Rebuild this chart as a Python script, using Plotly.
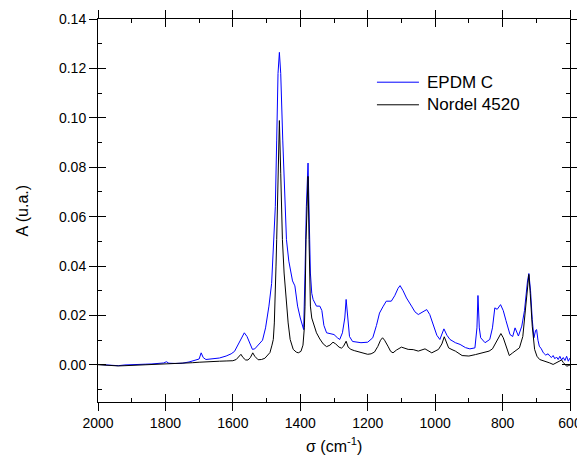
import plotly.graph_objects as go

# ---------------- data ----------------
epdm_x = [2000, 1980, 1960, 1940, 1920, 1900, 1880, 1860, 1840, 1820, 1805, 1797, 1790, 1770, 1750,
          1730, 1710, 1700, 1694, 1688, 1680, 1660, 1640, 1620, 1605, 1595, 1585, 1575, 1566, 1558,
          1550, 1542, 1535, 1525, 1512, 1503, 1493, 1485, 1478, 1474, 1470, 1466, 1462, 1458, 1452,
          1446, 1441, 1434, 1428, 1423, 1416, 1408, 1400, 1396, 1390, 1386, 1382, 1377, 1374, 1370,
          1366, 1362, 1352, 1342, 1336, 1330, 1322, 1300, 1290, 1283, 1275, 1268, 1264, 1259, 1254,
          1245, 1220, 1200, 1185, 1174, 1165, 1155, 1145, 1130, 1120, 1110, 1104, 1095, 1085, 1070,
          1060, 1050, 1035, 1025, 1016, 1005, 995, 986, 974, 965, 956, 940, 926, 910, 897,
          882, 876, 873, 869, 865, 852, 838, 830, 823, 816, 806, 798, 790, 778, 770,
          763, 753, 743, 735, 731, 726, 722, 717, 712, 707, 702, 699, 695, 691, 685,
          679, 672, 665, 660, 655, 650, 645, 640, 635, 630, 625, 620, 615, 610, 605, 600]
epdm_y = [0.0002, 0.0000, -0.0004, -0.0003, 0.0000, 0.0002, 0.0001, 0.0003, 0.0004, 0.0005, 0.0008, 0.0013, 0.0007, 0.0006, 0.0007,
          0.0012, 0.0018, 0.0024, 0.0049, 0.0030, 0.0022, 0.0024, 0.0028, 0.0036, 0.0045, 0.0055, 0.0080, 0.0110, 0.0130, 0.0115,
          0.0085, 0.0063, 0.0065, 0.0080, 0.0100, 0.0150, 0.0238, 0.0330, 0.0507, 0.0642, 0.0910, 0.1180, 0.1265, 0.1180, 0.0910,
          0.0642, 0.0507, 0.0420, 0.0372, 0.0340, 0.0320, 0.0238, 0.0190, 0.0170, 0.0143, 0.0372, 0.0640, 0.0817, 0.0640, 0.0372,
          0.0290, 0.0265, 0.0238, 0.0238, 0.0220, 0.0160, 0.0130, 0.0123, 0.0110, 0.0103, 0.0130, 0.0190, 0.0265, 0.0180, 0.0115,
          0.0095, 0.0090, 0.0092, 0.0110, 0.0160, 0.0210, 0.0235, 0.0258, 0.0258, 0.0280, 0.0310, 0.0321, 0.0300, 0.0271, 0.0238,
          0.0215, 0.0204, 0.0215, 0.0224, 0.0204, 0.0160, 0.0120, 0.0103, 0.0146, 0.0120, 0.0103, 0.0090, 0.0083, 0.0070, 0.0065,
          0.0069, 0.0150, 0.0281, 0.0150, 0.0110, 0.0090, 0.0103, 0.0150, 0.0231, 0.0225, 0.0244, 0.0220, 0.0180, 0.0123, 0.0115,
          0.0150, 0.0117, 0.0157, 0.0220, 0.0278, 0.0340, 0.0370, 0.0300, 0.0184, 0.0110, 0.0140, 0.0143, 0.0100, 0.0076, 0.0065,
          0.0049, 0.0040, 0.0045, 0.0036, 0.0030, 0.0038, 0.0025, 0.0032, 0.0022, 0.0035, 0.0020, 0.0030, 0.0018, 0.0035, 0.0015, 0.0028]

nordel_x = [2000, 1980, 1960, 1940, 1920, 1900, 1880, 1860, 1840, 1820, 1800, 1780, 1760, 1740, 1720,
            1700, 1680, 1660, 1640, 1620, 1600, 1590, 1580, 1576, 1570, 1562, 1555, 1548, 1541, 1535,
            1525, 1515, 1505, 1495, 1490, 1484, 1480, 1477, 1475, 1472, 1470, 1466, 1462, 1458, 1453,
            1448, 1441, 1436, 1430, 1421, 1412, 1406, 1398, 1392, 1388, 1386, 1383, 1377, 1374, 1370,
            1366, 1362, 1352, 1342, 1332, 1322, 1312, 1303, 1295, 1285, 1278, 1272, 1264, 1258, 1250,
            1240, 1230, 1215, 1200, 1190, 1180, 1170, 1162, 1156, 1150, 1140, 1132, 1125, 1115, 1100,
            1080, 1065, 1050, 1030, 1010, 990, 980, 973, 965, 960, 950, 940, 920, 900, 880,
            860, 840, 830, 820, 812, 805, 798, 790, 780, 770, 760, 750, 740, 735, 730,
            726, 722, 718, 712, 705, 698, 690, 680, 670, 660, 650, 640, 630, 625, 620,
            615, 610, 605, 600]
nordel_y = [0.0001, -0.0001, -0.0004, -0.0004, -0.0003, -0.0002, -0.0001, 0.0000, 0.0001, 0.0001, 0.0002, 0.0003, 0.0004, 0.0007, 0.0009,
            0.0011, 0.0013, 0.0014, 0.0015, 0.0016, 0.0017, 0.0022, 0.0040, 0.0043, 0.0030, 0.0020, 0.0020, 0.0030, 0.0049, 0.0035,
            0.0021, 0.0022, 0.0027, 0.0040, 0.0050, 0.0080, 0.0103, 0.0170, 0.0238, 0.0400, 0.0507, 0.0776, 0.0989, 0.0776, 0.0507,
            0.0372, 0.0238, 0.0170, 0.0103, 0.0063, 0.0052, 0.0049, 0.0055, 0.0080, 0.0150, 0.0238, 0.0507, 0.0763, 0.0507, 0.0238,
            0.0190, 0.0170, 0.0130, 0.0105, 0.0085, 0.0074, 0.0080, 0.0092, 0.0085, 0.0072, 0.0068, 0.0075, 0.0096, 0.0072, 0.0063,
            0.0058, 0.0055, 0.0048, 0.0043, 0.0045, 0.0052, 0.0075, 0.0100, 0.0110, 0.0100, 0.0076, 0.0055, 0.0049, 0.0060, 0.0072,
            0.0063, 0.0062, 0.0056, 0.0065, 0.0049, 0.0063, 0.0085, 0.0114, 0.0085, 0.0069, 0.0062, 0.0056, 0.0038, 0.0036, 0.0042,
            0.0049, 0.0056, 0.0065, 0.0090, 0.0115, 0.0127, 0.0110, 0.0076, 0.0038, 0.0049, 0.0058, 0.0069, 0.0115, 0.0180, 0.0250,
            0.0320, 0.0366, 0.0290, 0.0157, 0.0063, 0.0035, 0.0022, 0.0018, 0.0015, 0.0008, 0.0002, 0.0008, 0.0015, 0.0020, 0.0010,
            0.0000, -0.0005, -0.0003, 0.0000]

series_names = ["EPDM C", "Nordel 4520"]
series_colors = ["#0000ff", "#000000"]
x_ticks = [2000, 1800, 1600, 1400, 1200, 1000, 800, 600]
y_ticks = [0.00, 0.02, 0.04, 0.06, 0.08, 0.10, 0.12, 0.14]
x_title = "σ (cm<sup>-1</sup>)"
y_title = "A (u.a.)"

FONT = "Liberation Sans, Arial, sans-serif"

fig = go.Figure()
fig.add_trace(go.Scatter(x=epdm_x, y=epdm_y, mode="lines", name=series_names[0],
                         line=dict(color=series_colors[0], width=1), showlegend=False))
fig.add_trace(go.Scatter(x=nordel_x, y=nordel_y, mode="lines", name=series_names[1],
                         line=dict(color=series_colors[1], width=1), showlegend=False))
# invisible trace to carry the secondary (inward tick) axes
fig.add_trace(go.Scatter(x=[x_ticks[0], x_ticks[-1]], y=[0, 0], xaxis="x2", yaxis="y2",
                         mode="markers", marker=dict(opacity=0), showlegend=False, hoverinfo="skip"))

xr = [2000, 600]
yr = [-0.015, 0.14]

# the page body has an 8px default margin, so the figure is sized to fit the window
fig.update_layout(
    width=577, height=451,
    margin=dict(l=90, r=15, t=11, b=57),
    paper_bgcolor="white", plot_bgcolor="white",
    font=dict(family=FONT, size=14, color="black"),
    xaxis=dict(range=xr, tickvals=x_ticks, ticktext=[str(v) for v in x_ticks],
               ticks="outside", ticklen=8, tickwidth=1, tickcolor="black",
               showline=True, linecolor="black", linewidth=1, mirror="allticks",
               showgrid=False, zeroline=False, automargin=False,
               tickfont=dict(size=14)),
    yaxis=dict(range=yr, tickvals=y_ticks, ticktext=["%.2f" % v for v in y_ticks],
               ticks="outside", ticklen=8, tickwidth=1, tickcolor="black",
               showline=True, linecolor="black", linewidth=1, mirror="allticks",
               showgrid=False, zeroline=False, automargin=False,
               tickfont=dict(size=14)),
    xaxis2=dict(range=xr, overlaying="x", tickvals=x_ticks, ticks="inside", ticklen=8,
                tickwidth=1, tickcolor="black", mirror="allticks", showticklabels=False,
                showgrid=False, zeroline=False, showline=False, automargin=False,
                minor=dict(dtick=100, tick0=600, ticks="inside", ticklen=4, tickcolor="black", tickwidth=1, showgrid=False)),
    yaxis2=dict(range=yr, overlaying="y", tickvals=y_ticks, ticks="inside", ticklen=8,
                tickwidth=1, tickcolor="black", mirror="allticks", showticklabels=False,
                showgrid=False, zeroline=False, showline=False, automargin=False,
                minor=dict(dtick=0.01, tick0=0, ticks="inside", ticklen=4, tickcolor="black", tickwidth=1, showgrid=False)),
    showlegend=False,
)

# axis titles
fig.add_annotation(xref="paper", yref="paper", x=0.5, y=-0.143, text=x_title, showarrow=False,
                   xanchor="center", yanchor="bottom", font=dict(size=16))
fig.add_annotation(xref="paper", yref="paper", x=-0.161, y=0.5, text=y_title, showarrow=False,
                   textangle=-90, xanchor="center", yanchor="middle", font=dict(size=16))

# manual legend (sample lines + labels)
legend_rows = [0.835, 0.776]
for name, color, yy in zip(series_names, series_colors, legend_rows):
    fig.add_shape(type="line", xref="paper", yref="paper", x0=0.591, x1=0.680, y0=yy, y1=yy,
                  line=dict(color=color, width=1))
    fig.add_annotation(xref="paper", yref="paper", x=0.693, y=yy, text=name, showarrow=False,
                       xanchor="left", yanchor="middle", font=dict(size=17, color="black"))

fig.write_html("out.html")
